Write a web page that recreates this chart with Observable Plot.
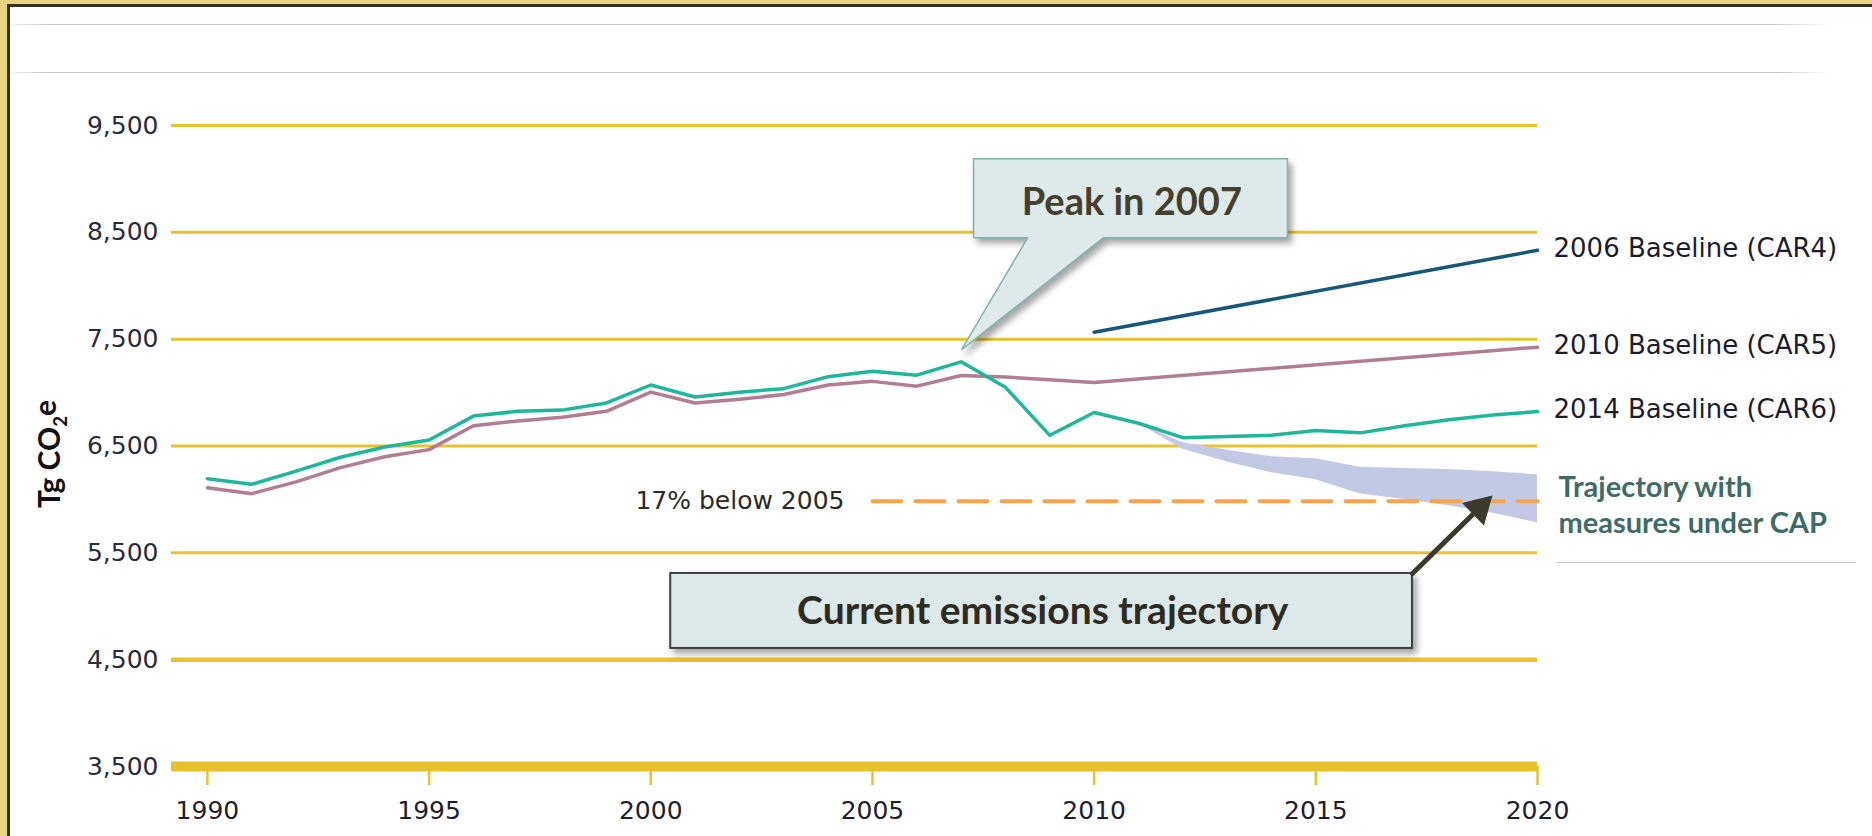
<!DOCTYPE html>
<html><head><meta charset="utf-8">
<script src="https://cdn.jsdelivr.net/npm/d3@7"></script>
<script src="https://cdn.jsdelivr.net/npm/@observablehq/plot@0.6"></script>
<style>
html,body{margin:0;padding:0;background:#fff;overflow:hidden;}
#wrap{position:relative;width:1872px;height:836px;overflow:hidden;background:#fff;}
#wrap svg{position:absolute;left:0;top:0;}
.deco{position:absolute;z-index:2;}
</style></head><body>
<div id="wrap">
  <div class="deco" style="left:0;top:0;width:1872px;height:4px;background:#e8d47f"></div>
  <div class="deco" style="left:0;top:4px;width:1872px;height:2.5px;background:#35311f"></div>
  <div class="deco" style="left:0;top:0;width:7px;height:836px;background:#e8d47f"></div>
  <div class="deco" style="left:7px;top:4px;width:2.5px;height:832px;background:#35311f"></div>
  <div class="deco" style="left:15px;top:23.5px;width:1815px;height:1.5px;background:linear-gradient(to right,#e6e6e6,#c9c9c9 2%,#c9c9c9 97%,#fff)"></div>
  <div class="deco" style="left:15px;top:71.5px;width:1815px;height:1.5px;background:linear-gradient(to right,#e6e6e6,#c4c4c4 2%,#c4c4c4 97%,#fff)"></div>
  <div class="deco" style="left:1556px;top:561.5px;width:300px;height:1.5px;background:#c6c6c6"></div>
</div>
<script>
// ---- data ----
const years = [1990,1991,1992,1993,1994,1995,1996,1997,1998,1999,2000,2001,2002,2003,2004,2005,2006,2007,2008,2009,2010,2011,2012,2013,2014,2015,2016,2017,2018,2019,2020];
const car6 = [6194,6142,6265,6395,6490,6556,6780,6825,6836,6903,7071,6959,7004,7037,7149,7200,7163,7288,7049,6600,6813,6713,6578,6590,6600,6645,6623,6690,6746,6791,6822];
const car5Years = [1990,1991,1992,1993,1994,1995,1996,1997,1998,1999,2000,2001,2002,2003,2004,2005,2006,2007,2008,2009,2010,2020];
const car5 = [6110,6054,6164,6298,6400,6466,6690,6735,6770,6825,7004,6903,6937,6982,7071,7105,7060,7160,7145,7120,7095,7425];
const car4Years = [2010, 2020];
const car4 = [7565, 8332];
const targetYears = [2005, 2020];
const target = [5984, 5984];
const capYears = [2011,2012,2013,2014,2015,2016,2017,2018,2019,2020];
const capLow  = [6713,6470,6350,6250,6185,6050,6000,5940,5870,5780];
const capHigh = [6713,6530,6460,6400,6380,6300,6290,6280,6260,6230];
const yTicks = [3500,4500,5500,6500,7500,8500,9500];
const xTicks = [1990,1995,2000,2005,2010,2015,2020];
const seriesLabels = ["2006 Baseline (CAR4)", "2010 Baseline (CAR5)", "2014 Baseline (CAR6)"];
const yLabel = "Tg CO\u2082e";
const targetLabel = "17% below 2005";
const capLabel = "Trajectory with\nmeasures under CAP";
const peakLabel = "Peak in 2007";
const currentLabel = "Current emissions trajectory";
// annotation anchors (data units)
const peakCalloutX = [2007.28, 2014.36, 2014.36, 2010.21, 2007.01, 2008.50, 2007.28, 2007.28];
const peakCalloutY = [9188, 9188, 8449, 8449, 7401, 8449, 8449, 9188];
const peakTextAt = {x: 2010.85, y: 8779};
const currentBox = {x1: 2000.45, x2: 2017.18, y1: 4605, y2: 5307};
const currentTextAt = {x: 2008.84, y: 4950};
const arrowAt = {x1: 2017.18, y1: 5307, x2: 2018.85, y2: 5985};

const gold = "#e8c22c";
const shadow = "drop-shadow(4px 5px 3px rgba(0,0,0,0.35))";
const arrowColor = "#3c3a2c";

const chart = Plot.plot({
  width: 1872, height: 836,
  marginLeft: 171, marginRight: 335, marginTop: 125, marginBottom: 70,
  x: {domain: [1989.19, 2020]},
  y: {domain: [3500, 9500]},
  style: {background: "transparent", fontFamily: "'DejaVu Sans', sans-serif", color: "#2b2b3b", overflow: "visible"},
  marks: [
    Plot.ruleY(yTicks.filter(d => d >= 5500), {stroke: gold, strokeWidth: 3}),
    Plot.ruleY(yTicks.filter(d => d === 4500), {stroke: gold, strokeWidth: 4.5}),
    Plot.ruleY(yTicks.filter(d => d === 3500), {stroke: gold, strokeWidth: 10}),
    Plot.axisY(yTicks, {tickSize: 0, tickPadding: 13, fontSize: 25, tickFormat: d3.format(","), label: null, fill: "#2b2b3b"}),
    Plot.axisX(xTicks, {tickSize: 19, tickPadding: 16, fontSize: 25, tickFormat: d => String(d), label: null, stroke: gold, strokeWidth: 2.5, fill: "#1e1e2e"}),
    Plot.areaY(capYears, {x: capYears, y1: capLow, y2: capHigh, fill: "#c3c8e4"}),
    Plot.line(targetYears, {x: targetYears, y: target, stroke: "#f6a24e", strokeWidth: 4, strokeDasharray: "29,14"}),
    Plot.line(car5Years, {x: car5Years, y: car5, stroke: "#b27d92", strokeWidth: 3.5}),
    Plot.line(car4Years, {x: car4Years, y: car4, stroke: "#15587a", strokeWidth: 3.5}),
    Plot.line(years, {x: years, y: car6, stroke: "#1fb79a", strokeWidth: 3.5}),
    Plot.text(seriesLabels, {x: [2020, 2020, 2020], y: [car4[car4.length-1], car5[car5.length-1], car6[car6.length-1]], dx: 16, dy: -2, textAnchor: "start", fontSize: 26, fill: "#1c1c2c"}),
    Plot.text([targetLabel], {x: [targetYears[0]], y: [target[0]], dx: -28, textAnchor: "end", fontSize: 25, fill: "#2a2a2a"}),
    Plot.text([capLabel], {x: [2020], y: [5943], dx: 21, dy: -2, textAnchor: "start", lineHeight: 1.25, fontSize: 29, fontWeight: "bold", fill: "#3f6b66", fontFamily: "Lato, sans-serif"}),
    Plot.text([yLabel], {frameAnchor: "left", textAnchor: "middle", dx: -121, dy: 8, rotate: -90, fontSize: 30, fontWeight: "bold", fill: "#111", fontFamily: "Lato, sans-serif"}),
    // callouts
    Plot.line(peakCalloutX, {x: peakCalloutX, y: peakCalloutY, fill: "#deeaea", stroke: "#7fb1ad", strokeWidth: 1.5, strokeLinejoin: "miter", imageFilter: shadow}),
    Plot.text([peakLabel], {x: [peakTextAt.x], y: [peakTextAt.y], fontSize: 38, fontWeight: "bold", fill: "#463e2e", fontFamily: "Lato, sans-serif"}),
    Plot.rect([currentBox], {x1: "x1", x2: "x2", y1: "y1", y2: "y2", fill: "#dde9e9", stroke: "#3f3f3f", strokeWidth: 2, imageFilter: shadow}),
    Plot.text([currentLabel], {x: [currentTextAt.x], y: [currentTextAt.y], fontSize: 39, fontWeight: "bold", fill: "#2e2b22", fontFamily: "Lato, sans-serif"}),
    Plot.arrow([arrowAt], {x1: "x1", y1: "y1", x2: "x2", y2: "y2", stroke: arrowColor, strokeWidth: 5, headLength: 0, insetEnd: 12}),
    Plot.dot([arrowAt], {x: "x2", y: "y2", symbol: "triangle", r: 11, fill: arrowColor, stroke: arrowColor, strokeWidth: 1, rotate: 45.8, dx: -7, dy: 7})
  ]
});
document.getElementById("wrap").appendChild(chart);

// subscript for CO2
d3.select(chart).selectAll("text").filter(function(){ return this.textContent === yLabel; }).each(function(){
  const t = d3.select(this);
  t.text(null);
  t.append("tspan").text("Tg CO");
  t.append("tspan").attr("font-size", "62%").attr("dy", "0.35em").text("2");
  t.append("tspan").attr("dy", "-0.35em").text("e");
});
</script>
</body></html>
